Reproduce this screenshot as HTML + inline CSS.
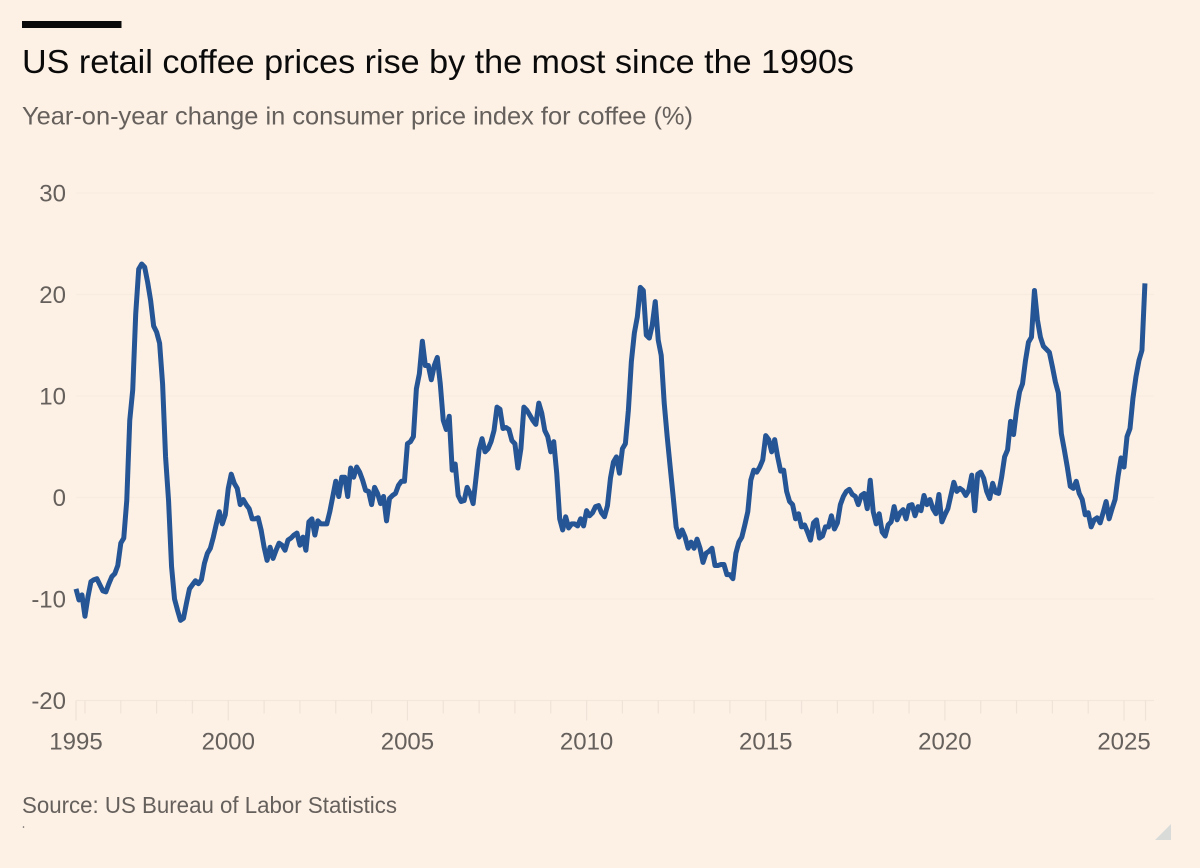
<!DOCTYPE html>
<html lang="en">
<head>
<meta charset="utf-8">
<title>US retail coffee prices rise by the most since the 1990s</title>
<style>
html,body{margin:0;padding:0;background:#fdf1e6;}
body{width:1200px;height:868px;overflow:hidden;}
svg{display:block;}
text{font-family:"Liberation Sans",sans-serif;}
</style>
</head>
<body>
<svg id="chart" xmlns="http://www.w3.org/2000/svg" width="1200" height="868" viewBox="0 0 1200 868">
  <rect x="0" y="0" width="1200" height="868" fill="#fdf1e6"/>
  <rect x="22" y="21" width="99.5" height="7" fill="#0a0a0a"/>
  <text x="22" y="73" font-size="33.5" fill="#0a0a0a" textLength="832" lengthAdjust="spacingAndGlyphs">US retail coffee prices rise by the most since the 1990s</text>
  <text x="22" y="124.5" font-size="25" fill="#66605c" textLength="671" lengthAdjust="spacingAndGlyphs">Year-on-year change in consumer price index for coffee (%)</text>
  <g id="grid"></g>
  <g id="yLabels"></g>
  <g id="xAxis"></g>
  <path id="line" fill="none" stroke="#265595" stroke-width="5" stroke-linejoin="round" stroke-linecap="butt"/>
  <text x="22" y="813" font-size="23.5" fill="#66605c" textLength="375" lengthAdjust="spacingAndGlyphs">Source: US Bureau of Labor Statistics</text>
  <circle cx="23.5" cy="827" r="0.8" fill="#66605c"/>
  <polygon points="1155,840 1171,824 1171,840" fill="#d9dbd9"/>
</svg>
<script>
// First observation: October 1995; monthly year-on-year change (%)
const startYear = 1995.75;
const endYear = 2025.6;
const cpiChange = [
-9.0,-10.1,-9.6,
-11.7,-9.8,-8.3,-8.1,-8.0,-8.6,-9.2,-9.3,-8.5,-7.8,-7.5,-6.7,
-4.5,-4.0,-0.3,7.6,10.6,18.1,22.5,23.0,22.7,21.2,19.4,16.9,
16.3,15.2,11.2,4.0,-0.3,-6.8,-10.0,-11.1,-12.1,-11.9,-10.4,-9.0,
-8.6,-8.2,-8.5,-8.1,-6.5,-5.5,-5.0,-3.9,-2.6,-1.4,-2.6,-1.7,
0.9,2.3,1.4,0.9,-0.7,-0.2,-0.7,-1.1,-2.1,-2.1,-2.0,-3.2,
-4.9,-6.2,-4.9,-6.0,-5.2,-4.5,-4.7,-5.2,-4.2,-4.0,-3.7,-3.5,
-4.7,-3.9,-5.2,-2.4,-2.1,-3.7,-2.3,-2.6,-2.6,-2.6,-1.4,0.1,
1.6,0.1,2.0,2.0,0.1,2.9,2.0,3.0,2.5,1.7,0.7,0.6,
-0.7,1.0,0.4,-0.6,0.1,-2.3,-0.1,0.2,0.4,1.2,1.6,1.6,
5.3,5.5,6.0,10.7,12.2,15.4,13.0,13.0,11.6,13.0,13.8,11.2,
7.6,6.7,8.0,2.7,3.3,0.2,-0.4,-0.3,1.0,0.4,-0.6,2.0,
4.7,5.8,4.5,4.8,5.5,6.6,8.9,8.7,6.8,6.9,6.7,5.6,
5.3,2.9,4.8,8.9,8.6,8.1,7.6,7.2,9.3,8.3,6.6,6.0,
4.5,5.5,2.4,-2.1,-3.2,-1.9,-3.0,-2.6,-2.6,-2.8,-2.1,-2.8,
-1.3,-1.8,-1.5,-0.9,-0.8,-1.5,-1.9,-0.8,1.9,3.5,4.0,2.4,
4.8,5.3,8.6,13.4,16.2,17.8,20.7,20.4,16.0,15.7,17.0,19.3,
15.5,14.0,9.3,6.0,3.0,0.1,-2.9,-3.9,-3.2,-3.9,-5.0,-4.4,
-5.0,-4.1,-5.0,-6.4,-5.5,-5.3,-5.0,-6.7,-6.7,-6.6,-6.6,-7.6,
-7.6,-8.0,-5.5,-4.4,-3.9,-2.7,-1.4,1.7,2.7,2.5,3.0,3.7,
6.1,5.7,4.5,5.7,4.0,2.6,2.7,0.6,-0.4,-0.7,-2.1,-1.6,
-2.9,-2.7,-3.4,-4.2,-2.5,-2.2,-4.0,-3.8,-2.9,-2.9,-1.8,-3.1,
-2.5,-0.7,0.1,0.6,0.8,0.3,0.1,-0.7,0.2,0.4,-1.1,1.7,
-1.4,-2.6,-1.6,-3.4,-3.8,-2.7,-2.4,-0.9,-2.2,-1.5,-1.2,-2.1,
-0.8,-0.7,-1.8,-0.9,-1.3,0.2,-0.7,-0.2,-1.1,-1.6,0.3,-2.4,
-1.7,-1.1,0.2,1.5,0.6,0.9,0.7,0.2,0.7,2.2,-1.3,2.3,
2.5,1.9,0.6,-0.1,1.4,0.5,0.4,2.0,4.0,4.7,7.5,6.2,
8.6,10.4,11.2,13.5,15.3,15.8,20.4,17.5,15.8,14.9,14.6,14.3,
12.9,11.4,10.3,6.3,4.7,3.0,1.1,0.9,1.6,0.4,-0.2,-1.7,
-1.5,-2.9,-2.2,-2.0,-2.5,-1.5,-0.4,-2.1,-1.1,-0.2,2.1,3.9,
3.0,6.0,6.8,9.8,11.9,13.5,14.5,21.1
];
const yTickValues = [30, 20, 10, 0, -10, -20];
const xLabelYears = [1995, 2000, 2005, 2010, 2015, 2020, 2025];
const xMinorYears = [1996,1997,1998,1999,2001,2002,2003,2004,2006,2007,2008,2009,2011,2012,2013,2014,2016,2017,2018,2019,2021,2022,2023,2024];

const NS = 'http://www.w3.org/2000/svg';
const xScale = function (t) { return 76 + (t - startYear) * 35.83; };
const yScale = function (v) { return 497.5 - v * 10.15; };
const monthTime = function (i) { return startYear + i / 12; };

const grid = document.getElementById('grid');
const yLabels = document.getElementById('yLabels');
const xAxis = document.getElementById('xAxis');

function make(tag, attrs, parent, content) {
  const el = document.createElementNS(NS, tag);
  Object.keys(attrs).forEach(function (k) { el.setAttribute(k, attrs[k]); });
  if (content !== undefined) el.textContent = content;
  parent.appendChild(el);
  return el;
}

yTickValues.forEach(function (v) {
  const y = yScale(v);
  const line = make('line', { x1: 76, x2: 1154, y1: y, y2: y, stroke: v === -20 ? '#f3e6da' : '#f8ebdf', 'stroke-width': 1.2 }, grid);
  
  
  const label = make('text', { x: 66, y: y + 8.5, 'text-anchor': 'end', 'font-size': 24, fill: '#66605c' }, yLabels, String(v));
  
  
});

const axisY = yScale(-20);
xMinorYears.forEach(function (yr) {
  const x = xScale(yr);
  const tick = make('line', { x1: x, x2: x, y1: axisY, y2: axisY + 13, stroke: '#efe2d6', 'stroke-width': 1.2 }, xAxis);
  
  
});
xLabelYears.forEach(function (yr) {
  const x = Math.max(xScale(yr), xScale(startYear));
  const tick = make('line', { x1: x, x2: x, y1: axisY, y2: axisY + 20, stroke: '#efe2d6', 'stroke-width': 1.2 }, xAxis);
  
  
  const label = make('text', { x: x, y: 749.5, 'text-anchor': 'middle', 'font-size': 24, fill: '#66605c' }, xAxis, String(yr));
  
  
});
const endTick = make('line', { x1: xScale(endYear), x2: xScale(endYear), y1: axisY, y2: axisY + 20, stroke: '#efe2d6', 'stroke-width': 1.2 }, xAxis);



document.getElementById('line').setAttribute('d', cpiChange.map(function (v, i) {
  return (i ? 'L' : 'M') + xScale(monthTime(i)).toFixed(2) + ' ' + yScale(v).toFixed(2);
}).join(' '));
</script>
</body>
</html>
